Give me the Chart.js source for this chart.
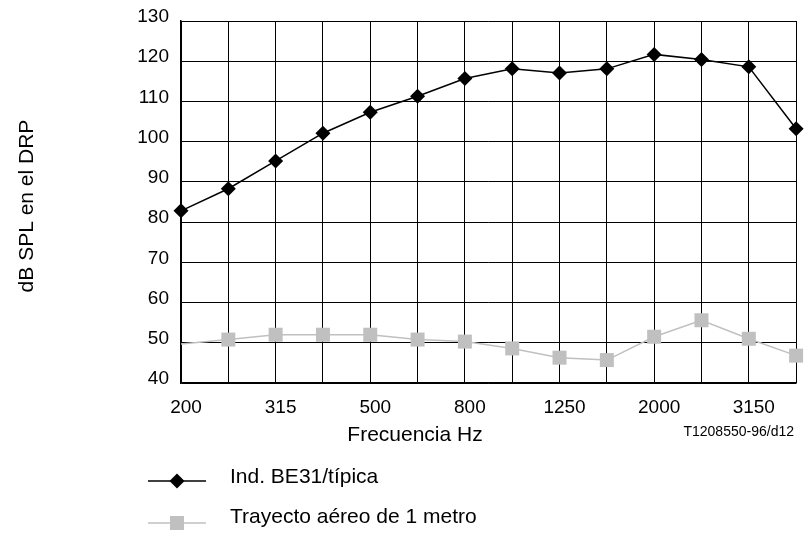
<!DOCTYPE html>
<html>
<head>
<meta charset="utf-8">
<script src="https://cdn.jsdelivr.net/npm/chart.js@4.4.0/dist/chart.umd.min.js"></script>
<style>
  html, body { margin: 0; padding: 0; background: #fff; }
  #wrap { width: 806px; height: 533px; position: relative; }
</style>
</head>
<body>
<div id="wrap"><canvas id="chart"></canvas></div>
<script>
// Third-octave bands, Hz
const FREQUENCIES = ['200', '250', '315', '400', '500', '630', '800', '1000', '1250', '1600', '2000', '2500', '3150', '4000'];

// dB SPL at DRP
const BE31_TYPICAL = [82.8, 88.3, 95.2, 102.1, 107.3, 111.3, 115.7, 118.1, 117.1, 118.1, 121.7, 120.4, 118.6, 103.2];
const AIR_PATH_1M  = [49.7, 50.8, 52.0, 52.0, 52.0, 50.8, 50.3, 48.6, 46.3, 45.7, 51.5, 55.6, 51.0, 46.8];

const SERIES_NAMES = ['Ind. BE31/típica', 'Trayecto aéreo de 1 metro'];
const Y_TITLE = 'dB SPL en el DRP';
const X_TITLE = 'Frecuencia Hz';
const FIG_REF = 'T1208550-96/d12';

const FONT = '"Liberation Sans", Arial, sans-serif';
const GREY = '#c0c0c0';

// Titles, figure reference and legend are drawn by hand to match the original layout
const extras = {
  id: 'extras',
  afterDraw(chart) {
    const ctx = chart.ctx;
    ctx.save();
    ctx.fillStyle = '#000';
    ctx.font = '21px ' + FONT;
    ctx.textBaseline = 'alphabetic';

    // y axis title
    ctx.save();
    ctx.translate(33, 206);
    ctx.rotate(-Math.PI / 2);
    ctx.textAlign = 'center';
    ctx.fillText(Y_TITLE, 0, 0);
    ctx.restore();

    // x axis title
    ctx.textAlign = 'center';
    ctx.fillText(X_TITLE, 415, 441);

    // figure reference
    ctx.font = '14px ' + FONT;
    ctx.textAlign = 'right';
    ctx.fillText(FIG_REF, 794, 436);

    // legend
    ctx.font = '21px ' + FONT;
    ctx.textAlign = 'left';

    ctx.strokeStyle = '#000';
    ctx.lineWidth = 1.5;
    ctx.beginPath(); ctx.moveTo(148, 481); ctx.lineTo(206, 481); ctx.stroke();
    ctx.fillStyle = '#000';
    ctx.beginPath();
    ctx.moveTo(177, 473.5); ctx.lineTo(184.5, 481); ctx.lineTo(177, 488.5); ctx.lineTo(169.5, 481);
    ctx.closePath(); ctx.fill();
    ctx.fillText(SERIES_NAMES[0], 230, 483);

    ctx.strokeStyle = GREY;
    ctx.beginPath(); ctx.moveTo(148, 523); ctx.lineTo(206, 523); ctx.stroke();
    ctx.fillStyle = GREY;
    ctx.fillRect(170, 516, 14, 14);
    ctx.fillStyle = '#000';
    ctx.fillText(SERIES_NAMES[1], 230, 523);

    ctx.restore();
  }
};

new Chart(document.getElementById('chart'), {
  type: 'line',
  data: {
    labels: FREQUENCIES,
    datasets: [
      {
        label: SERIES_NAMES[0],
        data: BE31_TYPICAL,
        borderColor: '#000',
        backgroundColor: '#000',
        borderWidth: 1.5,
        pointStyle: 'rectRot',
        pointRadius: 7.5,
        pointBorderWidth: 0,
        tension: 0,
        clip: false,
        order: 1,
      },
      {
        label: SERIES_NAMES[1],
        data: AIR_PATH_1M,
        borderColor: GREY,
        backgroundColor: GREY,
        borderWidth: 1.5,
        pointStyle: 'rect',
        pointRadius: (c) => (c.dataIndex === 0 ? 0 : 9.9),
        pointBorderWidth: 0,
        tension: 0,
        clip: false,
        order: 2,
      },
    ],
  },
  options: {
    responsive: true,
    maintainAspectRatio: false,
    animation: false,
    layout: { padding: { top: 21, right: 8, left: 0, bottom: 0 } },
    plugins: {
      legend: { display: false },
      tooltip: { enabled: false },
    },
    scales: {
      x: {
        offset: false,
        afterFit: (scale) => {
          scale.height = 150;
          scale.paddingLeft = 0;
          scale.paddingRight = 0;
        },
        grid: { color: '#000', lineWidth: 1, drawTicks: false },
        border: { color: '#000', width: 1.5 },
        ticks: {
          autoSkip: false,
          maxRotation: 0,
          padding: 13,
          labelOffset: 5,
          color: '#000',
          font: { family: FONT, size: 19 },
          callback: (v, i) => (i % 2 === 0 ? FREQUENCIES[i] : ''),
        },
      },
      y: {
        min: 40,
        max: 130,
        afterFit: (scale) => {
          scale.width = 181;
          scale.paddingTop = 0;
          scale.paddingBottom = 0;
        },
        grid: { color: '#000', lineWidth: 1, drawTicks: false },
        border: { color: '#000', width: 1.5 },
        ticks: {
          stepSize: 10,
          padding: 12,
          labelOffset: -4,
          color: '#000',
          font: { family: FONT, size: 19 },
        },
      },
    },
  },
  plugins: [extras],
});
</script>
</body>
</html>
